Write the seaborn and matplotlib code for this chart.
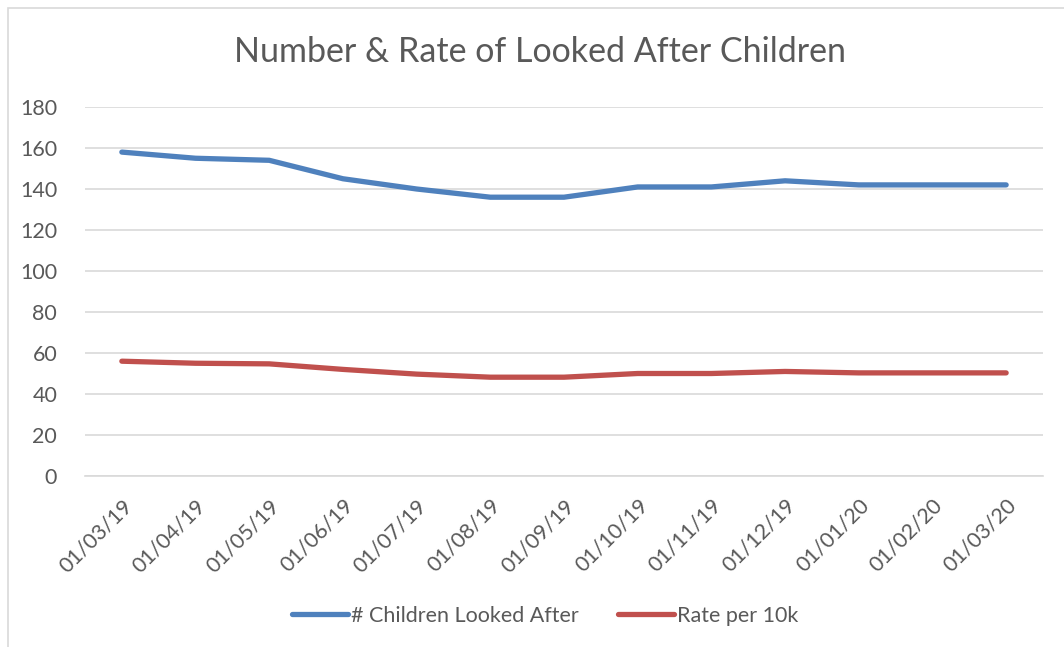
import pandas as pd
import matplotlib
matplotlib.use("Agg")
import matplotlib.pyplot as plt
import seaborn as sns
from matplotlib.patches import Rectangle
from matplotlib.ticker import FixedLocator, NullFormatter

# Du lieu doc tu bieu do
dates = ["01/03/19", "01/04/19", "01/05/19", "01/06/19", "01/07/19", "01/08/19", "01/09/19",
         "01/10/19", "01/11/19", "01/12/19", "01/01/20", "01/02/20", "01/03/20"]
children = [158, 155, 154, 145, 140, 136, 136, 141, 141, 144, 142, 142, 142]
rate = [56.0, 55.0, 54.7, 52.0, 49.7, 48.2, 48.2, 50.0, 50.0, 51.0, 50.3, 50.3, 50.3]
series_names = ["# Children Looked After", "Rate per 10k"]
y_ticks = list(range(0, 181, 20))

df = pd.concat([
    pd.DataFrame({"x": range(len(dates)), "value": children, "series": series_names[0]}),
    pd.DataFrame({"x": range(len(dates)), "value": rate, "series": series_names[1]}),
])

sns.set_style("white")
plt.rcParams['font.family'] = ['Lato', 'DejaVu Sans']
text_col = '#595959'
fs = 15.5

fig = plt.figure(figsize=(10.64, 6.47), dpi=100)
ax = fig.add_axes([85 / 1064, 1 - 476 / 647, (1043 - 85) / 1064, (476 - 107) / 647])

palette = {series_names[0]: '#4F81BD', series_names[1]: '#C0504D'}
sns.lineplot(data=df, x="x", y="value", hue="series", palette=palette, ax=ax,
             linewidth=3.8, legend=False, solid_capstyle='round', solid_joinstyle='round')

ax.set_xlim(-0.5, len(dates) - 0.5)
ax.set_ylim(0, 180)
ax.set_yticks(y_ticks)
ax.set_xticks(range(len(dates)))
ax.set_xticklabels(dates, rotation=45, ha='right', rotation_mode='anchor',
                   fontsize=fs, color=text_col)
ax.tick_params(axis='x', which='major', length=0, pad=14)
ax.xaxis.set_minor_locator(FixedLocator([i - 0.5 for i in range(len(dates) + 1)]))
ax.xaxis.set_minor_formatter(NullFormatter())
ax.tick_params(axis='x', which='minor', length=6, color='#d9d9d9', width=1.2, direction='out')
ax.tick_params(axis='y', length=0, labelsize=fs, labelcolor=text_col, pad=20)
ax.set_xlabel("")
ax.set_ylabel("")

ax.grid(axis='y', color='#d9d9d9', linewidth=1.2)
for s in ['top', 'right', 'left']:
    ax.spines[s].set_visible(False)
ax.spines['bottom'].set_color('#d9d9d9')
ax.spines['bottom'].set_linewidth(1.2)
ax.set_axisbelow(True)

fig.text(540 / 1064, 1 - 52 / 647, "Number & Rate of Looked After Children", ha='center', va='center',
         fontsize=24.5, color=text_col)

handles = [plt.Line2D([], [], color=palette[n], linewidth=3.8, solid_capstyle='round') for n in series_names]
fig.legend(handles, series_names, loc='center', bbox_to_anchor=(545 / 1064, 1 - 616 / 647), ncol=2,
           frameon=False, fontsize=fs, labelcolor=text_col, handlelength=2.6,
           handletextpad=0.15, columnspacing=1.8)

# vien khung bieu do
fig.patches.append(Rectangle((8 / 1064, -0.1), 1.2, 1.1 - 8 / 647, transform=fig.transFigure,
                             fill=False, edgecolor='#d9d9d9', linewidth=1.2))

fig.savefig("out.png", dpi=100, facecolor='white')
